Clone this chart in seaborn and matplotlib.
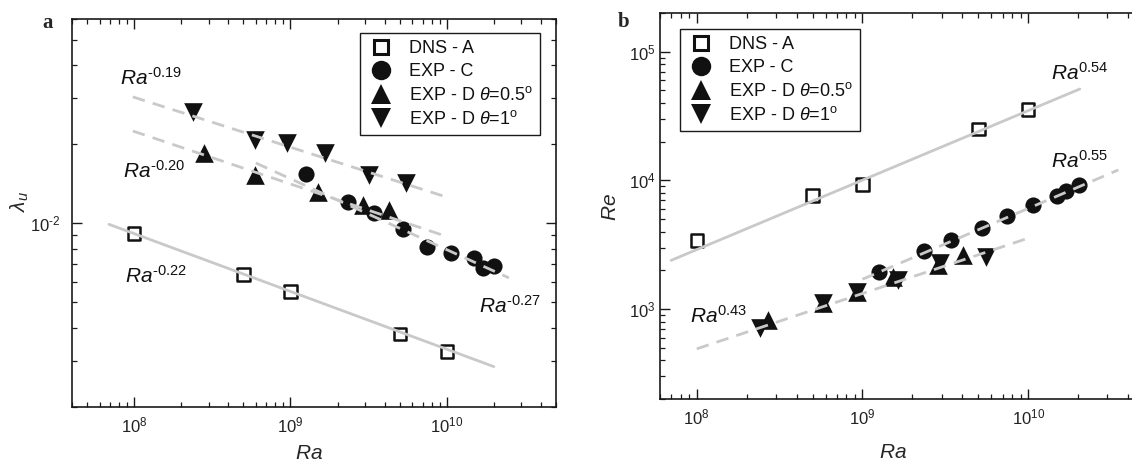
import numpy as np
import pandas as pd
import matplotlib
matplotlib.use("Agg")
import matplotlib.pyplot as plt
import seaborn as sns
from matplotlib.lines import Line2D
from matplotlib.ticker import FuncFormatter

# ---------------- data ----------------
# DNS - A
ra_dns = [1e8, 5e8, 1e9, 5e9, 1e10]
lam_dns = [9.16e-3, 6.38e-3, 5.5e-3, 3.8e-3, 3.25e-3]
re_dns = [3410, 7660, 9310, 25000, 35600]

# EXP - C
ra_expc = [1.25e9, 2.35e9, 3.40e9, 5.25e9, 7.5e9, 1.07e10, 1.50e10, 1.70e10, 2.02e10]
lam_expc = [0.01545, 0.01202, 0.01092, 0.00948, 0.0081, 0.00774, 0.00738, 0.00676, 0.00691]
re_expc = [1930, 2805, 3412, 4300, 5270, 6400, 7500, 8330, 9270]

# EXP - D theta = 0.5 deg
ra_d05_a = [2.8e8, 5.9e8, 1.5e9, 2.9e9, 4.25e9]
lam_d05 = [0.0185, 0.01525, 0.01318, 0.01172, 0.01122]
ra_d05_b = [2.69e8, 5.77e8, 9.27e8, 1.53e9, 2.86e9, 4.05e9]
re_d05 = [822, 1110, 1350, 1766, 2190, 2612]

# EXP - D theta = 1 deg
ra_d1_a = [2.39e8, 5.97e8, 9.46e8, 1.67e9, 3.16e9, 5.5e9]
lam_d1 = [0.0265, 0.0207, 0.0202, 0.0185, 0.01525, 0.01422]
ra_d1_b = [2.4e8, 5.77e8, 9.27e8, 1.64e9, 2.95e9, 5.57e9]
re_d1 = [718, 1110, 1350, 1675, 2265, 2560]

# power-law fits: exponent, log10 prefactor, Ra range, line style
fit_exp_a = [-0.22, -0.19, -0.20, -0.27]
fit_logc_a = [-0.279, 0.0, -0.050, 0.600]
fit_lo_a = [6.9e7, 9.8e7, 9.8e7, 6.0e8]
fit_hi_a = [2.0e10, 9.6e9, 9.6e9, 2.5e10]
fit_dash_a = [False, True, True, True]
fit_lbl_a = ["-0.22", "-0.19", "-0.20", "-0.27"]
lbl_pos_a = [(8.7e7, 0.00595), (8.1e7, 0.0337), (8.5e7, 0.01486), (1.61e10, 0.00457)]

fit_exp_b = [0.54, 0.55, 0.43]
fit_logc_b = [-0.858, -1.718, -0.749]
fit_lo_b = [7.0e7, 1.0e9, 1.0e8]
fit_hi_b = [2.05e10, 3.5e10, 1.0e10]
fit_dash_b = [False, True, True]
fit_lbl_b = ["0.54", "0.55", "0.43"]
lbl_pos_b = [(1.38e10, 60000), (1.38e10, 12500), (9.1e7, 780)]

legend_labels = ["DNS - A", "EXP - C",
                 r"EXP - D $\mathit{\theta}$=0.5$^{\mathrm{o}}$",
                 r"EXP - D $\mathit{\theta}$=1$^{\mathrm{o}}$"]

# ---------------- style ----------------
sns.set_theme(style="ticks")
plt.rcParams.update({
    "font.family": ["Liberation Sans", "DejaVu Sans"],
    "mathtext.fontset": "custom",
    "mathtext.rm": "Liberation Sans",
    "mathtext.it": "Liberation Sans:italic",
    "mathtext.bf": "Liberation Sans:bold",
    "mathtext.sf": "Liberation Sans",
    "axes.unicode_minus": False,
    "xtick.direction": "in", "ytick.direction": "in",
    "xtick.top": True, "ytick.right": True,
    "xtick.major.size": 7, "ytick.major.size": 7,
    "xtick.minor.size": 3.5, "ytick.minor.size": 3.5,
    "xtick.major.width": 1.0, "ytick.major.width": 1.0,
    "xtick.minor.width": 0.9, "ytick.minor.width": 0.9,
    "axes.linewidth": 1.2,
    "axes.edgecolor": "#1a1a1a",
    "xtick.color": "#1a1a1a", "ytick.color": "#1a1a1a",
    "xtick.labelcolor": "#222222", "ytick.labelcolor": "#222222",
    "xtick.labelsize": 12, "ytick.labelsize": 12,
})

MK = "#111111"
GREY = "#c9c9c9"
DASH = (0, (4.5, 3.0))

fig = plt.figure(figsize=(11.32, 4.63), dpi=100)
W, H = 1132, 463
ax_a = fig.add_axes([72 / W, 1 - 407 / H, (556 - 72) / W, (407 - 19) / H])
ax_b = fig.add_axes([660 / W, 1 - 399 / H, (1144 - 660) / W, (399 - 13) / H])

for ax in (ax_a, ax_b):
    ax.set_xscale("log")
    ax.set_yscale("log")
ax_a.set_xlim(4.0e7, 5.0e10)
ax_a.set_ylim(2.0e-3, 6.0e-2)
ax_b.set_xlim(6.0e7, 5.0e10)
ax_b.set_ylim(200, 2.0e5)


def pow10_fmt(v, pos):
    e = int(round(np.log10(v)))
    if not np.isclose(v, 10.0 ** e):
        return ""
    s = str(e).replace("-", r"\text{-}")
    return r"$\mathregular{10^{%s}}$" % s


for ax in (ax_a, ax_b):
    ax.xaxis.set_major_formatter(FuncFormatter(pow10_fmt))
    ax.yaxis.set_major_formatter(FuncFormatter(pow10_fmt))


def draw_fits(ax, exps, logcs, los, his, dashed):
    for p, lc, lo, hi, d in zip(exps, logcs, los, his, dashed):
        xs = np.array([lo, hi])
        ys = 10 ** lc * xs ** p
        sns.lineplot(x=xs, y=ys, ax=ax, color=GREY, lw=2.0,
                     linestyle=DASH if d else "-", zorder=4)


def draw_points(ax, ra_sq, y_sq, ra_c, y_c, ra_up, y_up, ra_dn, y_dn):
    sns.scatterplot(x=ra_sq, y=y_sq, ax=ax, marker="s", s=80,
                    facecolors="none", edgecolor=MK, linewidth=1.8, zorder=3)
    sns.scatterplot(x=ra_c, y=y_c, ax=ax, marker="o", s=135,
                    color=MK, edgecolor=MK, linewidth=0, zorder=3)
    sns.scatterplot(x=ra_up, y=y_up, ax=ax, marker="^", s=180,
                    color=MK, edgecolor=MK, linewidth=0, zorder=3)
    sns.scatterplot(x=ra_dn, y=y_dn, ax=ax, marker="v", s=180,
                    color=MK, edgecolor=MK, linewidth=0, zorder=3)


draw_points(ax_a, ra_dns, lam_dns, ra_expc, lam_expc, ra_d05_a, lam_d05, ra_d1_a, lam_d1)
draw_points(ax_b, ra_dns, re_dns, ra_expc, re_expc, ra_d05_b, re_d05, ra_d1_b, re_d1)
draw_fits(ax_a, fit_exp_a, fit_logc_a, fit_lo_a, fit_hi_a, fit_dash_a)
draw_fits(ax_b, fit_exp_b, fit_logc_b, fit_lo_b, fit_hi_b, fit_dash_b)

for ax, lbls, poss in ((ax_a, fit_lbl_a, lbl_pos_a), (ax_b, fit_lbl_b, lbl_pos_b)):
    for t, (x, y) in zip(lbls, poss):
        tt = t.replace("-", r"\text{-}")
        ax.text(x, y, r"$\mathit{Ra}^{\mathrm{%s}}$" % tt, fontsize=15,
                ha="left", va="baseline", color="#111111", zorder=6)

# legends
handles = [
    Line2D([], [], ls="none", marker="s", ms=9.5, mfc="none", mec=MK, mew=2.2),
    Line2D([], [], ls="none", marker="o", ms=14, mfc=MK, mec=MK, mew=0),
    Line2D([], [], ls="none", marker="^", ms=15, mfc=MK, mec=MK, mew=0),
    Line2D([], [], ls="none", marker="v", ms=15, mfc=MK, mec=MK, mew=0),
]
for ax, anchor in ((ax_a, (0.595, 0.964)), (ax_b, (0.041, 0.959))):
    leg = ax.legend(handles, legend_labels, loc="upper left", bbox_to_anchor=anchor,
                    borderaxespad=0, frameon=True, fancybox=False, fontsize=13,
                    handlelength=1.5, handletextpad=0.8, labelspacing=0.33,
                    borderpad=0.4)
    fr = leg.get_frame()
    fr.set_edgecolor("#1a1a1a")
    fr.set_linewidth(1.0)
    fr.set_facecolor("white")
    fr.set_alpha(1)
    for t in leg.get_texts():
        t.set_color("#111111")

# axis labels
ax_a.set_xlabel(r"$\mathit{Ra}$", fontsize=15)
ax_a.set_ylabel(r"$\lambda_u$", fontsize=15)
ax_b.set_xlabel(r"$\mathit{Ra}$", fontsize=15)
ax_b.set_ylabel(r"$\mathit{Re}$", fontsize=15)
ax_a.xaxis.set_label_coords(0.49, -0.095)
ax_a.yaxis.set_label_coords(-0.085, 0.53)
ax_b.xaxis.set_label_coords(0.481, -0.115)
ax_b.yaxis.set_label_coords(-0.083, 0.497)

ax_a.tick_params(axis="x", which="major", pad=6)
ax_b.tick_params(axis="x", which="major", pad=6)
ax_a.tick_params(axis="y", which="major", pad=8)
ax_b.tick_params(axis="y", which="major", pad=3)

for ax in (ax_a, ax_b):
    for s in ax.spines.values():
        s.set_visible(True)

fig.text(48 / W, 1 - 23 / H, "a", fontsize=15, fontweight="bold",
         family="Liberation Serif", ha="center", va="center")
fig.text(624 / W, 1 - 22 / H, "b", fontsize=15, fontweight="bold",
         family="Liberation Serif", ha="center", va="center")

fig.savefig("out.png", dpi=100)
